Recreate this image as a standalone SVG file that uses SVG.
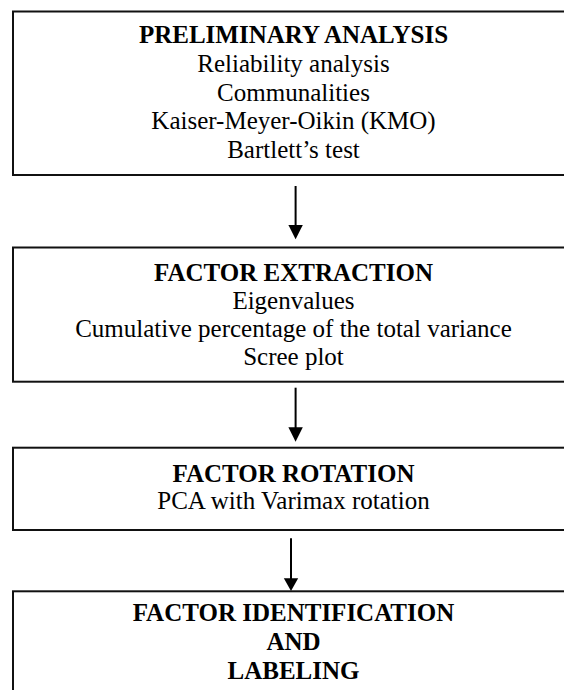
<svg xmlns="http://www.w3.org/2000/svg" width="564" height="690" viewBox="0 0 564 690">
<defs>
<style>
.box{fill:#fff;stroke:#111;stroke-width:2}
text{font-family:"Liberation Serif","Times New Roman",serif;font-size:25px;fill:#000;text-anchor:middle}
.t{font-weight:bold}
.conn{stroke:#000;stroke-width:2;fill:none}
.head{fill:#000}
</style>
</defs>
<rect width="564" height="690" fill="#fff"/>
<g id="node-preliminary">
<rect class="box" x="13" y="11.5" width="562" height="163.5"/>
<text class="t" x="293.5" y="43.3">PRELIMINARY ANALYSIS</text>
<text x="293.5" y="72">Reliability analysis</text>
<text x="293.5" y="100.7">Communalities</text>
<text x="293.5" y="129.4">Kaiser-Meyer-Oikin (KMO)</text>
<text x="293.5" y="158.1">Bartlett’s test</text>
</g>
<g id="node-extraction">
<rect class="box" x="13" y="247.5" width="562" height="134.2"/>
<text class="t" x="293.5" y="280.5">FACTOR EXTRACTION</text>
<text x="293.5" y="308.8">Eigenvalues</text>
<text x="293.5" y="337">Cumulative percentage of the total variance</text>
<text x="293.5" y="365.3">Scree plot</text>
</g>
<g id="node-rotation">
<rect class="box" x="13" y="447.7" width="562" height="82.3"/>
<text class="t" x="293.5" y="481.5">FACTOR ROTATION</text>
<text x="293.5" y="508.5">PCA with Varimax rotation</text>
</g>
<g id="node-identification">
<rect class="box" x="13" y="591.3" width="562" height="120"/>
<text class="t" x="293.5" y="621">FACTOR IDENTIFICATION</text>
<text class="t" x="293.5" y="650">AND</text>
<text class="t" x="293.5" y="679">LABELING</text>
</g>
<g id="connectors">
<line class="conn" x1="295.6" y1="186" x2="295.6" y2="226"/>
<polygon class="head" points="288.4,225 302.8,225 295.6,239.3"/>
<line class="conn" x1="295.6" y1="387.7" x2="295.6" y2="428"/>
<polygon class="head" points="288.4,427.3 302.8,427.3 295.6,441.7"/>
<line class="conn" x1="291" y1="538.3" x2="291" y2="579"/>
<polygon class="head" points="283.8,578.3 298.2,578.3 291,591"/>
</g>
</svg>
